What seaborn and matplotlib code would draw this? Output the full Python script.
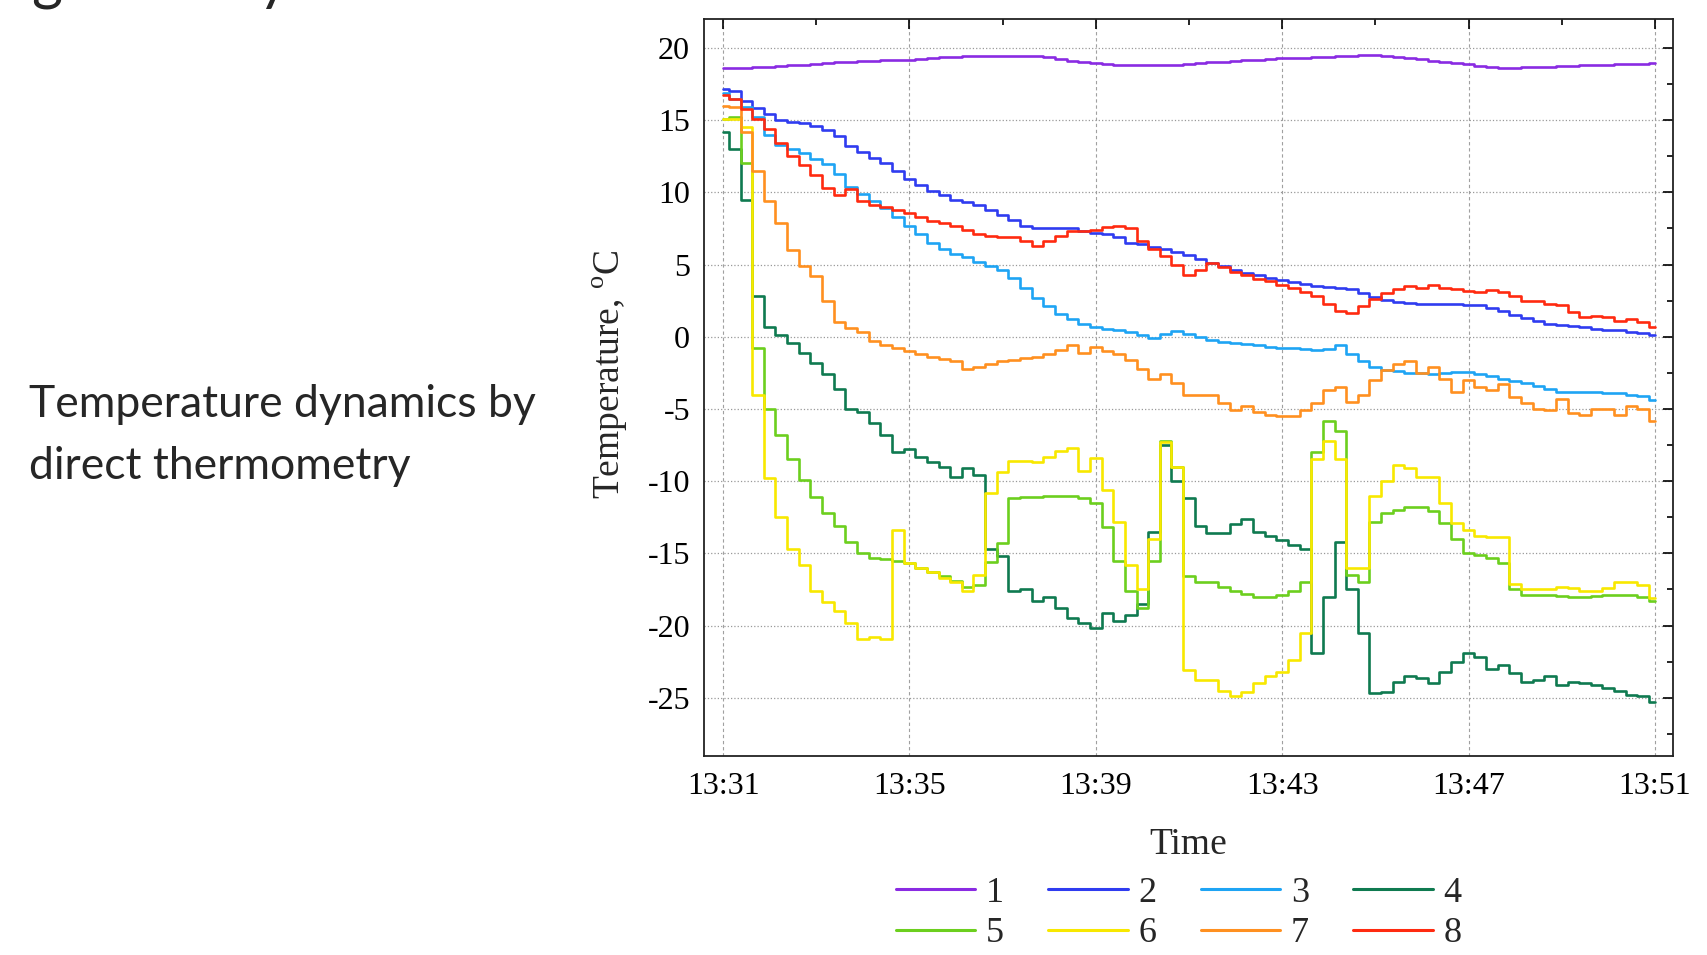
import numpy as np
import pandas as pd
import matplotlib
matplotlib.use("Agg")
import matplotlib.pyplot as plt
from matplotlib.lines import Line2D
from matplotlib.ticker import MultipleLocator
import seaborn as sns

# readings every 15 s, in minutes after 13:31
minutes = np.arange(0, 20.01, 0.25)

sensor_1 = [18.6, 18.6, 18.62, 18.65, 18.7, 18.75, 18.8, 18.85, 18.9, 18.95, 19.0, 19.05,
            19.1, 19.12, 19.15, 19.18, 19.2, 19.25, 19.3, 19.35, 19.38, 19.42, 19.45, 19.45,
            19.45, 19.45, 19.45, 19.43, 19.38, 19.25, 19.1, 19.0, 18.93, 18.9, 18.85, 18.82,
            18.8, 18.8, 18.82, 18.85, 18.9, 18.95, 19.0, 19.05, 19.1, 19.15, 19.2, 19.25,
            19.28, 19.3, 19.33, 19.36, 19.4, 19.42, 19.45, 19.48, 19.5, 19.45, 19.38, 19.3,
            19.22, 19.12, 19.02, 18.93, 18.86, 18.75, 18.66, 18.63, 18.63, 18.65, 18.68, 18.7,
            18.73, 18.76, 18.8, 18.82, 18.85, 18.87, 18.9, 18.92, 18.93]
sensor_2 = [17.15, 17.0, 16.3, 15.85, 15.4, 15.0, 14.9, 14.8, 14.6, 14.3, 13.9, 13.2,
            12.8, 12.4, 12.0, 11.5, 10.9, 10.5, 10.1, 9.8, 9.5, 9.35, 9.1, 8.8,
            8.45, 8.1, 7.7, 7.55, 7.5, 7.5, 7.5, 7.35, 7.2, 7.1, 6.9, 6.5,
            6.4, 6.25, 6.05, 5.9, 5.65, 5.4, 5.1, 4.9, 4.6, 4.4, 4.25, 4.1,
            3.95, 3.8, 3.65, 3.5, 3.42, 3.38, 3.3, 3.0, 2.75, 2.55, 2.4, 2.35,
            2.3, 2.25, 2.25, 2.25, 2.22, 2.2, 2.0, 1.75, 1.5, 1.3, 1.1, 0.9,
            0.8, 0.72, 0.65, 0.57, 0.5, 0.44, 0.35, 0.25, 0.1]
sensor_3 = [16.9, 16.5, 15.9, 15.2, 14.0, 13.3, 13.0, 12.7, 12.3, 11.95, 11.3, 10.4,
            9.9, 9.4, 8.9, 8.3, 7.7, 7.1, 6.5, 6.1, 5.7, 5.5, 5.2, 4.9,
            4.6, 4.1, 3.4, 2.7, 2.1, 1.6, 1.2, 0.9, 0.7, 0.55, 0.45, 0.3,
            0.1, -0.1, 0.2, 0.4, 0.2, 0.0, -0.25, -0.35, -0.45, -0.5, -0.6, -0.7,
            -0.75, -0.8, -0.85, -0.93, -0.85, -0.6, -1.2, -1.7, -2.1, -2.3, -2.4, -2.5,
            -2.5, -2.6, -2.5, -2.45, -2.45, -2.6, -2.75, -2.9, -3.05, -3.2, -3.4, -3.6,
            -3.85, -3.85, -3.8, -3.85, -3.9, -3.9, -4.0, -4.1, -4.4]
sensor_4 = [14.15, 13.0, 9.5, 2.8, 0.7, 0.1, -0.4, -1.1, -1.8, -2.6, -3.6, -5.0,
            -5.2, -6.0, -6.8, -8.0, -7.8, -8.3, -8.7, -9.0, -9.7, -9.1, -9.6, -14.7,
            -15.2, -17.6, -17.5, -18.3, -18.0, -18.8, -19.5, -19.8, -20.2, -19.1, -19.7, -19.3,
            -18.5, -13.5, -7.5, -10.0, -11.2, -13.1, -13.6, -13.6, -13.0, -12.6, -13.5, -13.8,
            -14.1, -14.4, -14.7, -21.9, -18.0, -14.2, -17.5, -20.5, -24.7, -24.6, -23.9, -23.5,
            -23.6, -24.0, -23.2, -22.5, -21.9, -22.2, -23.0, -22.7, -23.3, -23.9, -23.8, -23.5,
            -24.1, -23.9, -24.0, -24.1, -24.3, -24.5, -24.8, -24.9, -25.3]
sensor_5 = [15.1, 15.2, 12.0, -0.8, -5.0, -6.8, -8.5, -9.9, -11.1, -12.2, -13.1, -14.2,
            -15.0, -15.3, -15.4, -15.5, -15.7, -16.0, -16.3, -16.6, -16.9, -17.3, -17.2, -15.6,
            -14.3, -11.2, -11.1, -11.1, -11.0, -11.0, -11.0, -11.2, -11.5, -13.2, -15.5, -17.6,
            -18.8, -15.5, -7.2, -9.0, -16.6, -17.0, -17.0, -17.3, -17.6, -17.8, -18.0, -18.0,
            -17.9, -17.6, -17.0, -8.0, -5.8, -6.5, -16.5, -17.0, -12.8, -12.2, -12.0, -11.8,
            -11.8, -12.1, -12.9, -14.0, -15.0, -15.1, -15.3, -15.7, -17.5, -17.9, -17.9, -17.9,
            -17.95, -18.0, -18.0, -17.95, -17.9, -17.85, -17.9, -18.0, -18.3]
sensor_6 = [15.1, 15.1, 14.5, -4.0, -9.8, -12.5, -14.7, -15.8, -17.6, -18.4, -19.0, -19.8,
            -20.9, -20.8, -20.9, -13.4, -15.7, -16.0, -16.3, -16.7, -17.0, -17.6, -16.5, -10.8,
            -9.4, -8.6, -8.6, -8.7, -8.3, -7.9, -7.7, -9.3, -8.4, -10.6, -12.8, -15.8,
            -17.5, -14.0, -7.3, -9.0, -23.1, -23.8, -23.8, -24.5, -24.9, -24.6, -24.0, -23.5,
            -23.2, -22.4, -20.5, -8.5, -7.2, -8.5, -16.0, -16.0, -11.0, -10.0, -8.9, -9.1,
            -9.7, -9.7, -11.5, -12.9, -13.4, -13.8, -13.9, -13.9, -17.1, -17.5, -17.5, -17.5,
            -17.3, -17.4, -17.6, -17.6, -17.4, -17.0, -17.0, -17.2, -18.1]
sensor_7 = [15.95, 15.9, 14.2, 11.5, 9.4, 7.9, 6.0, 4.9, 4.2, 2.5, 1.0, 0.6,
            0.3, -0.3, -0.6, -0.8, -1.0, -1.2, -1.4, -1.55, -1.7, -2.2, -2.1, -1.9,
            -1.7, -1.6, -1.5, -1.4, -1.2, -0.9, -0.6, -1.1, -0.7, -1.0, -1.2, -1.6,
            -2.2, -2.9, -2.6, -3.2, -4.0, -4.0, -4.0, -4.6, -5.1, -4.8, -5.2, -5.4,
            -5.5, -5.5, -5.1, -4.6, -3.7, -3.5, -4.5, -4.0, -3.0, -2.3, -1.9, -1.7,
            -2.5, -2.1, -2.9, -3.8, -3.0, -3.5, -3.7, -3.3, -4.2, -4.6, -5.0, -5.1,
            -4.3, -5.3, -5.4, -5.0, -5.0, -5.4, -4.8, -5.0, -5.8]
sensor_8 = [16.75, 16.5, 15.8, 15.1, 14.4, 13.4, 12.5, 11.9, 11.2, 10.3, 9.8, 10.2,
            9.4, 9.1, 9.0, 8.8, 8.6, 8.3, 8.0, 7.9, 7.7, 7.4, 7.1, 7.0,
            6.9, 6.9, 6.6, 6.3, 6.6, 7.0, 7.3, 7.3, 7.4, 7.6, 7.7, 7.5,
            6.6, 6.1, 5.6, 5.0, 4.3, 4.6, 5.1, 4.8, 4.5, 4.3, 4.0, 3.85,
            3.6, 3.4, 3.1, 2.8, 2.3, 1.8, 1.65, 2.1, 2.6, 3.0, 3.3, 3.5,
            3.4, 3.6, 3.4, 3.3, 3.2, 3.1, 3.25, 3.1, 2.8, 2.5, 2.5, 2.3,
            2.2, 1.7, 1.35, 1.45, 1.4, 1.1, 1.2, 1.05, 0.7]

sensor_ids = ["1", "2", "3", "4", "5", "6", "7", "8"]
sensor_colors = ["#8a2be2", "#2f3cf0", "#1ea4f4", "#0f7a50",
                 "#6ccf1e", "#f8e800", "#ff9020", "#ff2a10"]
tick_minutes = [0, 4, 8, 12, 16, 20]
tick_labels = ["13:31", "13:35", "13:39", "13:43", "13:47", "13:51"]

series = [sensor_1, sensor_2, sensor_3, sensor_4, sensor_5, sensor_6, sensor_7, sensor_8]
df = pd.concat(
    [pd.DataFrame({"minute": minutes, "temp": vals, "sensor": sid})
     for sid, vals in zip(sensor_ids, series)],
    ignore_index=True,
)
palette = dict(zip(sensor_ids, sensor_colors))

sns.set_theme(style="white")
plt.rcParams["font.family"] = ["Liberation Serif", "DejaVu Serif"]
plt.rcParams["mathtext.fontset"] = "custom"
plt.rcParams["mathtext.rm"] = "Liberation Serif"
plt.rcParams["axes.unicode_minus"] = False

fig = plt.figure(figsize=(17.07, 9.55), dpi=100)
ax = fig.add_axes([0.4124, 0.2089, 0.5677, 0.7717])

sns.lineplot(data=df, x="minute", y="temp", hue="sensor", palette=palette,
             estimator=None, drawstyle="steps-mid", linewidth=1.9,
             legend=False, ax=ax)

ax.set_xlim(-0.41, 20.39)
ax.set_ylim(-29, 22.04)
ax.set_xticks(tick_minutes)
ax.set_xticklabels(tick_labels)
ax.xaxis.set_minor_locator(MultipleLocator(2))
ax.set_yticks(range(-25, 21, 5))
ax.yaxis.set_minor_locator(MultipleLocator(2.5))
ax.tick_params(which="both", direction="in", top=True, right=True, width=1.2, colors="black")
ax.tick_params(which="major", length=7, labelsize=23)
ax.tick_params(which="minor", length=4)
ax.tick_params(axis="x", pad=12)
ax.tick_params(axis="y", pad=10)
# vertical grid dashed, horizontal dotted
ax.xaxis.grid(True, which="major", linestyle=(0, (3, 2.5)), color="#a0a0a0", linewidth=0.8)
ax.yaxis.grid(True, which="major", linestyle=":", color="#999999", linewidth=0.9)
for sp in ax.spines.values():
    sp.set_color("#222222")
    sp.set_linewidth(1.3)

ax.set_xlabel("Time", fontsize=27)
ax.xaxis.set_label_coords(0.5, -0.121)
ax.xaxis.label.set_verticalalignment("center")
ax.set_ylabel(r"Temperature, $^{\rm o}$C", fontsize=27)
ax.yaxis.set_label_coords(-0.097, 0.517)
ax.yaxis.label.set_verticalalignment("center")

# legend fills row-wise: 1-4 on top, 5-8 below
order = [0, 4, 1, 5, 2, 6, 3, 7]
handles = [Line2D([], [], color=sensor_colors[i], linewidth=2.2) for i in order]
labels = [sensor_ids[i] for i in order]
fig.legend(handles, labels, loc="center", bbox_to_anchor=(0.6905, 0.0434),
           ncol=4, frameon=False, fontsize=26, handlelength=2.2,
           handletextpad=0.3, columnspacing=1.22, labelspacing=0.2)

fig.text(0.017, 0.544, "Temperature dynamics by\ndirect thermometry",
         fontsize=32, family=["Lato", "DejaVu Sans"], va="center", ha="left",
         linespacing=1.62)
# slide title line, cut off by the top edge: only descenders show
fig.text(0.019, 1.002, "guided by", fontsize=43, family=["Lato", "DejaVu Sans"],
         va="baseline", ha="left")

fig.savefig("out.png", dpi=100)
